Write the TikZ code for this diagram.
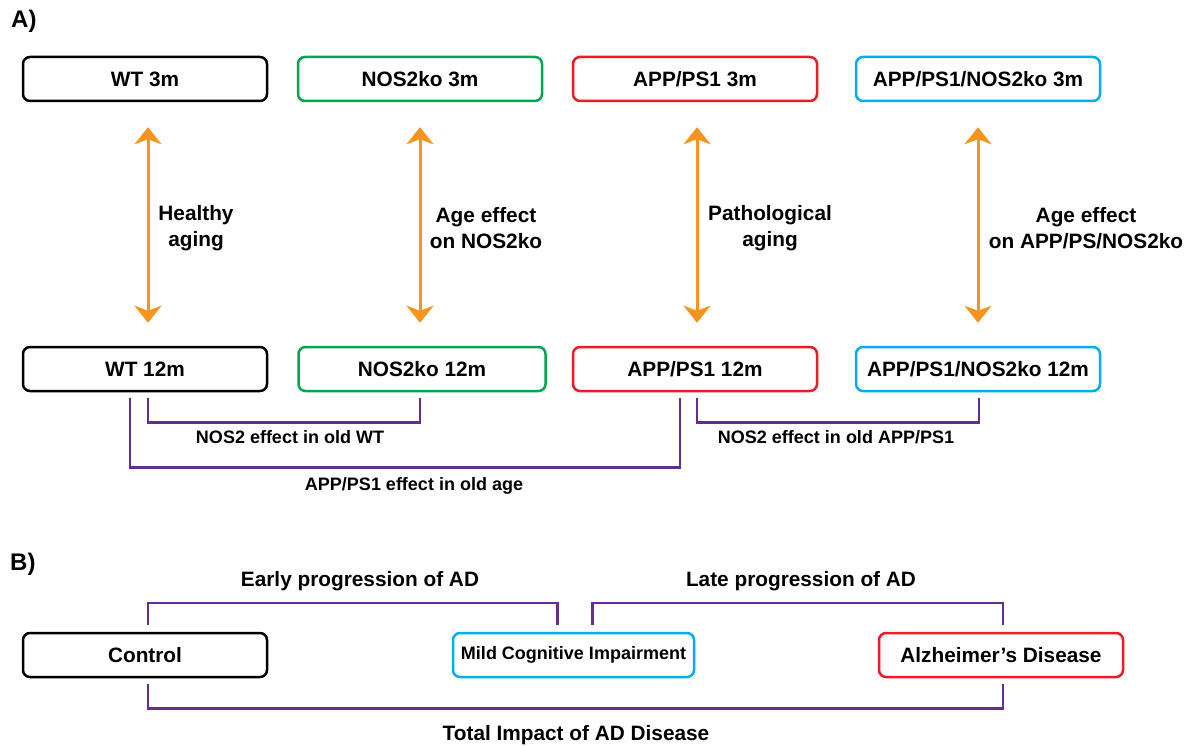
\documentclass[tikz,border=0pt]{standalone}
\usepackage{fontspec}
\setmainfont{Liberation Sans}
\usetikzlibrary{arrows.meta}
\pgfdeclarelayer{edgelayer}
\pgfdeclarelayer{nodelayer}
\pgfsetlayers{edgelayer,nodelayer,main}
\definecolor{nosgreen}{RGB}{0,166,81}
\definecolor{appred}{RGB}{237,28,36}
\definecolor{appnoscyan}{RGB}{0,174,239}
\definecolor{ageorange}{RGB}{247,148,29}
\definecolor{effectpurple}{RGB}{102,45,145}
\tikzstyle{group}=[rectangle, rounded corners=7pt, line width=2.5pt, fill=white, minimum width=244pt, minimum height=44pt, inner sep=0pt, font=\fontsize{20.8}{26}\selectfont\bfseries]
\tikzstyle{age}=[draw=ageorange, line width=3pt, {Stealth[length=17pt, width=27pt, inset=5pt]}-{Stealth[length=17pt, width=27pt, inset=5pt]}, shorten <=25pt, shorten >=23pt]
\tikzstyle{effect}=[draw=effectpurple, line width=2.5pt]
\tikzstyle{txt}=[align=center, inner sep=0pt, font=\fontsize{20.8}{26}\selectfont\bfseries]
\tikzstyle{smalltxt}=[align=center, inner sep=0pt, font=\fontsize{18}{22}\selectfont\bfseries]

\begin{document}
\begin{tikzpicture}[x=1pt, y=-1pt]
	\useasboundingbox (0, 0) rectangle (1190, 746);
	\begin{pgfonlayer}{nodelayer}
		% A) mouse groups
		\node [style=txt, anchor=west, font=\fontsize{24}{28}\selectfont\bfseries] (panelA) at (11, 21) {A)};
		\node [style=group, draw=black] (wt3) at (145, 79) {WT 3m};
		\node [style=group, draw=nosgreen] (nos3) at (420, 79) {NOS2ko 3m};
		\node [style=group, draw=appred] (app3) at (695, 79) {APP/PS1 3m};
		\node [style=group, draw=appnoscyan] (apn3) at (978, 79) {APP/PS1/NOS2ko 3m};
		\node [style=group, draw=black] (wt12) at (145, 369) {WT 12m};
		\node [style=group, draw=nosgreen, minimum width=247pt] (nos12) at (422, 369) {NOS2ko 12m};
		\node [style=group, draw=appred] (app12) at (695, 369) {APP/PS1 12m};
		\node [style=group, draw=appnoscyan] (apn12) at (978, 369) {APP/PS1/NOS2ko 12m};
		\node [style=txt] (healthy) at (196, 228) {Healthy\\aging};
		\node [style=txt] (agenos) at (486, 228) {Age effect\\on NOS2ko};
		\node [style=txt] (patho) at (770, 228) {Pathological\\aging};
		\node [style=txt] (ageapn) at (1086, 228) {Age effect\\on APP/PS/NOS2ko};
		\node [style=smalltxt] (noswt) at (290, 437) {NOS2 effect in old WT};
		\node [style=smalltxt] (appold) at (414, 486) {APP/PS1 effect in old age};
		\node [style=smalltxt] (nosapp) at (836, 437) {NOS2 effect in old APP/PS1};
		% B) disease stages
		\node [style=txt, anchor=west, font=\fontsize{24}{28}\selectfont\bfseries] (panelB) at (10, 564) {B)};
		\node [style=group, draw=black] (ctrl) at (145, 655) {Control};
		\node [style=group, draw=appnoscyan, minimum width=241pt, font=\fontsize{18}{22}\selectfont\bfseries] (mci) at (573.5, 655) {Mild Cognitive Impairment};
		\node [style=group, draw=appred] (ad) at (1001, 655) {Alzheimer’s Disease};
		\node [style=txt] (early) at (360, 581) {Early progression of  AD};
		\node [style=txt] (late) at (801, 581) {Late progression of  AD};
		\node [style=txt] (total) at (576, 735) {Total Impact of AD Disease};
	\end{pgfonlayer}
	\begin{pgfonlayer}{edgelayer}
		\draw [style=age] ([xshift=3pt]wt3.south) to ([xshift=3pt]wt12.north);
		\draw [style=age] (nos3.south) to ([xshift=-2pt]nos12.north);
		\draw [style=age] ([xshift=2pt]app3.south) to ([xshift=2pt]app12.north);
		\draw [style=age] (apn3.south) to (apn12.north);
		\draw [style=effect] ([xshift=3pt, yshift=-6pt]wt12.south) -- ++(0, 24) -| ([xshift=-2pt, yshift=-6pt]nos12.south);
		\draw [style=effect] ([xshift=-15pt, yshift=-6pt]wt12.south) -- ++(0, 69) -| ([xshift=-15pt, yshift=-6pt]app12.south);
		\draw [style=effect] ([xshift=2pt, yshift=-6pt]app12.south) -- ++(0, 24) -| ([xshift=1pt, yshift=-6pt]apn12.south);
		\draw [style=effect] ([xshift=3pt, yshift=7pt]ctrl.north) -- ++(0, -22) -| ([xshift=-16pt, yshift=7pt]mci.north);
		\draw [style=effect] ([xshift=19pt, yshift=7pt]mci.north) -- ++(0, -22) -| ([xshift=2pt, yshift=7pt]ad.north);
		\draw [style=effect] ([xshift=3pt, yshift=-6pt]ctrl.south) -- ++(0, 24) -| ([xshift=2pt, yshift=-6pt]ad.south);
	\end{pgfonlayer}
\end{tikzpicture}
\end{document}
